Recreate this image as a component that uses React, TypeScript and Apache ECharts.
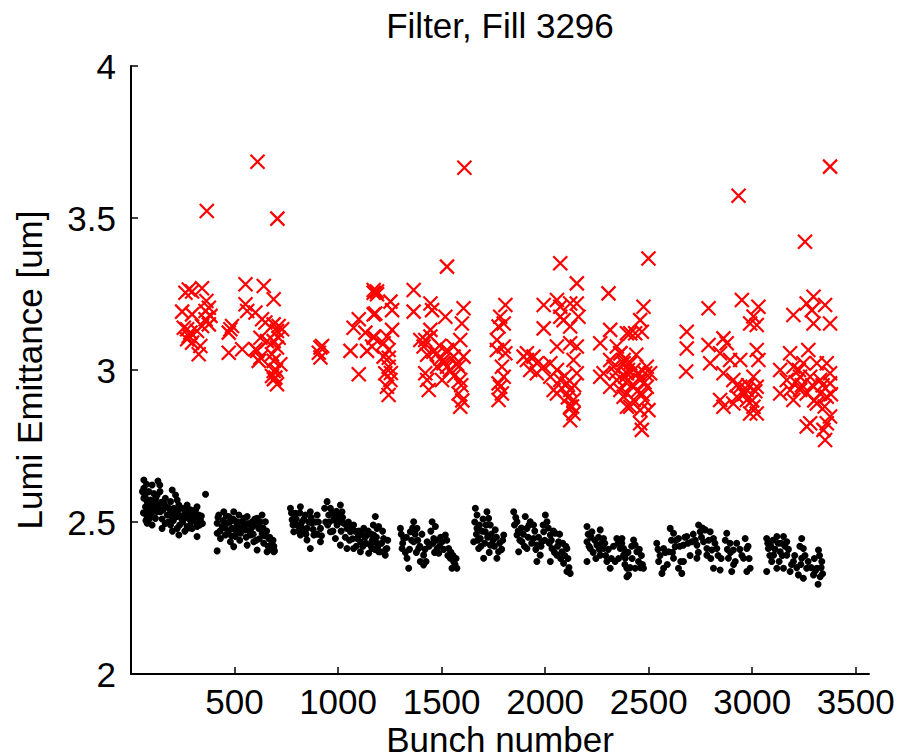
import React, { useEffect, useRef } from "react";
import * as echarts from "echarts";

const titleText = "Filter, Fill 3296";
const xName = "Bunch number";
const yName = "Lumi Emittance [um]";
const xTicks = [500, 1000, 1500, 2000, 2500, 3000, 3500];

// black dots (bunch, emittance)
const black1: [number, number][] = [
  [62, 2.638], [75, 2.624], [102, 2.622], [130, 2.635], [139, 2.622], [62, 2.611], [65, 2.594], [86, 2.6],
  [110, 2.594], [126, 2.589], [62, 2.578], [78, 2.567], [94, 2.572], [118, 2.567], [134, 2.556], [70, 2.55],
  [86, 2.54], [110, 2.545], [126, 2.534], [75, 2.523], [97, 2.518], [118, 2.512], [78, 2.496], [102, 2.49],
  [150, 2.479], [166, 2.578], [191, 2.567], [199, 2.605], [215, 2.589], [223, 2.572], [183, 2.545], [207, 2.545],
  [231, 2.556], [175, 2.523], [199, 2.512], [223, 2.518], [191, 2.49], [223, 2.479], [231, 2.457], [247, 2.545],
  [271, 2.556], [287, 2.54], [255, 2.523], [279, 2.512], [303, 2.534], [319, 2.55], [327, 2.523], [311, 2.501],
  [271, 2.485], [295, 2.479], [319, 2.485], [335, 2.507], [319, 2.452], [360, 2.591], [78, 2.512], [142, 2.534],
  [90, 2.555], [100, 2.53], [140, 2.6], [160, 2.56], [210, 2.53], [250, 2.5], [290, 2.5], [300, 2.505],
  [240, 2.52], [180, 2.5],
  [424, 2.523], [448, 2.534], [472, 2.518], [496, 2.534], [521, 2.523], [545, 2.512], [416, 2.496], [440, 2.485],
  [464, 2.496], [488, 2.479], [512, 2.49], [537, 2.501], [561, 2.518], [585, 2.501], [609, 2.512], [633, 2.523],
  [649, 2.501], [416, 2.463], [432, 2.446], [456, 2.457], [480, 2.435], [504, 2.452], [529, 2.463], [553, 2.474],
  [577, 2.457], [593, 2.435], [617, 2.479], [633, 2.463], [641, 2.43], [665, 2.446], [673, 2.413], [689, 2.402],
  [416, 2.405], [496, 2.419], [561, 2.424], [609, 2.408], [657, 2.402], [500, 2.505], [540, 2.48], [600, 2.49],
  [620, 2.445], [470, 2.47], [680, 2.43], [690, 2.42],
];
const black2: [number, number][] = [
  [770, 2.545], [794, 2.529], [818, 2.55], [842, 2.523], [866, 2.534], [778, 2.507], [802, 2.49], [826, 2.501],
  [850, 2.479], [874, 2.496], [899, 2.523], [915, 2.479], [786, 2.468], [818, 2.457], [850, 2.441], [883, 2.457],
  [915, 2.435], [866, 2.413], [947, 2.567], [963, 2.545], [955, 2.523], [979, 2.507], [1011, 2.556], [1019, 2.534],
  [995, 2.49], [1027, 2.496], [1043, 2.479], [963, 2.468], [987, 2.446], [1011, 2.424], [1060, 2.468], [1075, 2.49],
  [1092, 2.446], [1108, 2.435], [1124, 2.479], [1140, 2.457], [1156, 2.424], [1172, 2.435], [1188, 2.479], [1196, 2.402],
  [1075, 2.413], [1043, 2.413], [1108, 2.402], [1148, 2.397], [790, 2.515], [830, 2.475], [900, 2.46], [940, 2.5],
  [1000, 2.52], [1050, 2.5], [1100, 2.47], [1130, 2.45],
  [1180, 2.518], [1196, 2.485], [1172, 2.457], [1188, 2.43], [1204, 2.402], [1228, 2.391], [1220, 2.446], [1236, 2.413],
  [1164, 2.413],
  [1301, 2.479], [1317, 2.446], [1309, 2.413], [1333, 2.381], [1341, 2.348], [1365, 2.501], [1381, 2.479], [1365, 2.435],
  [1389, 2.413], [1397, 2.37], [1413, 2.391], [1430, 2.435], [1454, 2.501], [1470, 2.485], [1462, 2.446], [1478, 2.413],
  [1502, 2.435], [1518, 2.457], [1534, 2.413], [1542, 2.381], [1558, 2.37], [1574, 2.348], [1550, 2.348], [1349, 2.468],
  [1413, 2.359], [1486, 2.397],
];
const black3: [number, number][] = [
  [1663, 2.545], [1671, 2.523], [1719, 2.534], [1727, 2.512], [1671, 2.479], [1687, 2.446], [1711, 2.468], [1735, 2.49],
  [1759, 2.474], [1679, 2.413], [1703, 2.381], [1735, 2.424], [1775, 2.402], [1767, 2.381], [1800, 2.457], [1655, 2.435],
  [1848, 2.534], [1864, 2.501], [1904, 2.518], [1928, 2.501], [1912, 2.479], [1944, 2.49], [2001, 2.523], [2009, 2.501],
  [1864, 2.457], [1888, 2.435], [1912, 2.413], [1872, 2.402], [1944, 2.446], [1960, 2.424], [1984, 2.435], [1993, 2.468],
  [2025, 2.457], [2049, 2.463], [2065, 2.435], [2033, 2.413], [2057, 2.391], [2081, 2.402], [2105, 2.413], [1976, 2.391],
  [1960, 2.37], [2025, 2.37], [2089, 2.364], [2105, 2.337], [2121, 2.331],
  [2202, 2.485], [2226, 2.468], [2266, 2.474], [2282, 2.446], [2202, 2.435], [2218, 2.413], [2250, 2.424], [2266, 2.391],
  [2298, 2.37], [2202, 2.37], [2314, 2.348], [2346, 2.446], [2363, 2.413], [2379, 2.391], [2338, 2.37], [2395, 2.348],
  [2403, 2.326], [2282, 2.413],
];
const black4: [number, number][] = [
  [2371, 2.446], [2379, 2.413], [2387, 2.381], [2395, 2.32], [2427, 2.441], [2435, 2.424], [2443, 2.402], [2451, 2.37],
  [2435, 2.348], [2475, 2.348],
  [2604, 2.479], [2620, 2.463], [2644, 2.446], [2684, 2.452], [2741, 2.49], [2749, 2.468], [2773, 2.474], [2797, 2.468],
  [2813, 2.446], [2539, 2.43], [2572, 2.413], [2596, 2.402], [2628, 2.419], [2668, 2.424], [2708, 2.435], [2733, 2.424],
  [2765, 2.435], [2781, 2.413], [2805, 2.408], [2829, 2.413], [2548, 2.37], [2572, 2.348], [2620, 2.381], [2644, 2.348],
  [2668, 2.37], [2733, 2.381], [2781, 2.391], [2813, 2.348], [2845, 2.342], [2877, 2.463], [2893, 2.43], [2909, 2.408],
  [2885, 2.381], [2918, 2.37], [2901, 2.337], [2966, 2.446], [2974, 2.413], [2958, 2.381], [2990, 2.348], [2974, 2.337],
  [2564, 2.331], [2660, 2.331],
  [3070, 2.446], [3119, 2.452], [3151, 2.452], [3167, 2.435], [3078, 2.413], [3103, 2.391], [3135, 2.402], [3167, 2.391],
  [3199, 2.37], [3094, 2.37], [3119, 2.348], [3070, 2.337], [3151, 2.348], [3183, 2.337], [3239, 2.446], [3247, 2.413],
  [3239, 2.381], [3263, 2.348], [3223, 2.326], [3320, 2.408], [3336, 2.37], [3312, 2.348], [3296, 2.326], [3247, 2.315],
  [3328, 2.32], [3318, 2.295],
];
const black5: [number, number][] = [
  [55, 2.6], [68, 2.585], [85, 2.57], [95, 2.545], [108, 2.56], [120, 2.58], [128, 2.55], [145, 2.565],
  [155, 2.54], [170, 2.55], [185, 2.525], [195, 2.53], [205, 2.505], [215, 2.52], [225, 2.535], [235, 2.49],
  [245, 2.51], [260, 2.54], [265, 2.515], [280, 2.53], [290, 2.525], [305, 2.515], [312, 2.54], [325, 2.505],
  [332, 2.49], [340, 2.52], [345, 2.495], [60, 2.53], [72, 2.505], [88, 2.51], [150, 2.51], [165, 2.495],
  [200, 2.47], [260, 2.47], [280, 2.48],
  [420, 2.515], [430, 2.47], [445, 2.505], [455, 2.48], [460, 2.52], [478, 2.5], [485, 2.455], [492, 2.51],
  [508, 2.47], [515, 2.5], [525, 2.44], [532, 2.48], [548, 2.49], [556, 2.45], [565, 2.495], [572, 2.47],
  [582, 2.48], [590, 2.46], [598, 2.51], [605, 2.44], [612, 2.49], [625, 2.5], [638, 2.48], [645, 2.455],
  [655, 2.47], [662, 2.42], [670, 2.45], [680, 2.41], [686, 2.44], [693, 2.405],
  [775, 2.53], [782, 2.49], [798, 2.51], [808, 2.47], [815, 2.53], [822, 2.485], [835, 2.51], [845, 2.46],
  [858, 2.5], [870, 2.515], [880, 2.475], [890, 2.5], [905, 2.5], [920, 2.455], [935, 2.545], [950, 2.49],
  [958, 2.5], [970, 2.53], [975, 2.47], [985, 2.515], [992, 2.535], [1005, 2.5], [1015, 2.47], [1022, 2.515],
  [1035, 2.45], [1040, 2.49], [1055, 2.44], [1065, 2.485], [1070, 2.445], [1082, 2.47], [1088, 2.42], [1098, 2.455],
  [1115, 2.46], [1120, 2.42], [1135, 2.43], [1145, 2.47], [1160, 2.46], [1165, 2.44], [1178, 2.41], [1185, 2.45],
  [1192, 2.42], [1210, 2.43], [1215, 2.47], [1230, 2.41], [1240, 2.44], [1170, 2.49],
  [1305, 2.46], [1312, 2.43], [1325, 2.4], [1330, 2.45], [1345, 2.41], [1355, 2.44], [1360, 2.48], [1372, 2.46],
  [1378, 2.4], [1385, 2.44], [1395, 2.42], [1405, 2.46], [1420, 2.41], [1425, 2.37], [1440, 2.42], [1448, 2.47],
  [1458, 2.43], [1466, 2.4], [1475, 2.44], [1490, 2.42], [1495, 2.45], [1510, 2.41], [1525, 2.44], [1530, 2.39],
  [1545, 2.4], [1555, 2.39], [1565, 2.36], [1570, 2.38],
  [1660, 2.5], [1668, 2.46], [1675, 2.44], [1683, 2.49], [1690, 2.42], [1695, 2.47], [1700, 2.51], [1708, 2.43],
  [1715, 2.49], [1722, 2.45], [1730, 2.4], [1740, 2.46], [1748, 2.44], [1755, 2.42], [1765, 2.45], [1780, 2.43],
  [1790, 2.41], [1795, 2.44],
  [1852, 2.49], [1858, 2.515], [1870, 2.47], [1878, 2.44], [1885, 2.48], [1895, 2.46], [1900, 2.42], [1918, 2.45],
  [1922, 2.49], [1935, 2.43], [1950, 2.47], [1955, 2.41], [1968, 2.45], [1980, 2.42], [1990, 2.49], [1998, 2.44],
  [2015, 2.48], [2020, 2.43], [2030, 2.44], [2040, 2.47], [2045, 2.4], [2060, 2.42], [2070, 2.46], [2075, 2.38],
  [2085, 2.43], [2095, 2.39], [2100, 2.42], [2110, 2.38], [2115, 2.35],
  [2208, 2.46], [2212, 2.42], [2222, 2.45], [2232, 2.4], [2240, 2.44], [2245, 2.38], [2258, 2.45], [2262, 2.41],
  [2272, 2.43], [2288, 2.43], [2292, 2.39], [2305, 2.41], [2320, 2.38], [2330, 2.42], [2352, 2.43], [2355, 2.38],
  [2370, 2.43], [2385, 2.36], [2400, 2.4], [2410, 2.35], [2418, 2.42], [2420, 2.38], [2455, 2.41], [2460, 2.35],
  [2465, 2.39], [2470, 2.36],
  [2545, 2.41], [2555, 2.39], [2580, 2.4], [2590, 2.36], [2610, 2.44], [2615, 2.4], [2632, 2.44], [2650, 2.42],
  [2655, 2.37], [2675, 2.45], [2690, 2.43], [2700, 2.39], [2715, 2.46], [2725, 2.44], [2740, 2.4], [2755, 2.45],
  [2760, 2.48], [2790, 2.44], [2800, 2.38], [2820, 2.43], [2835, 2.39], [2850, 2.38], [2870, 2.44], [2880, 2.41],
  [2895, 2.4], [2910, 2.36], [2925, 2.43], [2940, 2.41], [2950, 2.39], [2980, 2.42], [2985, 2.38],
  [3075, 2.43], [3085, 2.39], [3090, 2.42], [3100, 2.44], [3110, 2.41], [3125, 2.43], [3130, 2.37], [3140, 2.43],
  [3145, 2.39], [3158, 2.42], [3175, 2.41], [3190, 2.36], [3205, 2.39], [3215, 2.35], [3230, 2.42], [3235, 2.36],
  [3255, 2.39], [3270, 2.37], [3285, 2.35], [3300, 2.38], [3305, 2.34], [3325, 2.39], [3333, 2.35], [3340, 2.33],
];

// red crosses (bunch, emittance)
const red1: [number, number][] = [
  [279, 3.265], [295, 3.258], [343, 3.269], [263, 3.254], [364, 3.227], [247, 3.192], [295, 3.183], [360, 3.194],
  [376, 3.205], [384, 3.178], [360, 3.167], [271, 3.134], [287, 3.123], [319, 3.128], [343, 3.145], [271, 3.101],
  [295, 3.09], [335, 3.079], [327, 3.052], [376, 3.15], [255, 3.139], [279, 3.112], [366, 3.523],
  [480, 3.134], [472, 3.123], [472, 3.057], [488, 3.145],
  [553, 3.282], [641, 3.276], [689, 3.233], [553, 3.216], [561, 3.194], [601, 3.189], [633, 3.167], [649, 3.156],
  [537, 3.068], [601, 3.068], [625, 3.041], [617, 3.03], [689, 3.15], [713, 3.145], [730, 3.134], [705, 3.128],
  [689, 3.095], [705, 3.074], [681, 3.052], [689, 3.03], [689, 2.997], [697, 2.975], [705, 2.953], [681, 2.98],
  [721, 3.019], [713, 3.106], [657, 3.095], [625, 3.106], [609, 3.063], [611, 3.685], [707, 3.498],
  [915, 3.074], [907, 3.057], [915, 3.041], [923, 3.079],
  [1172, 3.254], [1100, 3.167], [1075, 3.139], [1132, 3.123], [1172, 3.106], [1060, 3.063], [1140, 3.063], [1100, 2.986],
  [1172, 3.183], [1188, 3.249],
];
const red2: [number, number][] = [
  [1172, 3.263], [1188, 3.258], [1180, 3.186], [1172, 3.11], [1164, 3.077], [1253, 3.225], [1261, 3.197], [1236, 3.11],
  [1220, 3.088], [1244, 3.066], [1220, 3.044], [1244, 3.011], [1228, 2.989], [1253, 2.967], [1236, 2.945], [1244, 2.918],
  [1261, 3.132],
  [1365, 3.263], [1365, 3.192], [1446, 3.219], [1454, 3.197], [1526, 3.34], [1518, 3.175], [1421, 3.099], [1446, 3.11],
  [1397, 3.099], [1413, 3.077], [1478, 3.055], [1494, 3.038], [1510, 3.022], [1526, 3.066], [1558, 3.077], [1590, 3.099],
  [1606, 3.203], [1598, 3.153], [1421, 2.989], [1430, 2.967], [1438, 2.934], [1502, 2.967], [1526, 3.011], [1582, 3.011],
  [1590, 2.967], [1582, 2.923], [1590, 2.879], [1606, 3.044], [1446, 3.132], [1478, 3.011], [1558, 3.044], [1610, 3.665],
  [1808, 3.214], [1783, 3.175], [1800, 3.153], [1775, 3.143], [1767, 3.099], [1800, 3.077], [1808, 3.055], [1767, 3.066],
  [1791, 3.011], [1800, 2.978], [1775, 2.956], [1783, 2.945], [1791, 2.923], [1775, 2.901],
];
const red3: [number, number][] = [
  [2073, 3.351], [2153, 3.285], [1993, 3.214], [2057, 3.23], [2073, 3.208], [2121, 3.219], [2153, 3.219], [2161, 3.175],
  [2073, 3.175], [2089, 3.164], [2121, 3.143], [1993, 3.137], [2057, 3.077], [1912, 3.055], [1944, 3.044], [1960, 3.022],
  [1993, 3.011], [2025, 3.022], [2057, 3.0], [2121, 3.088], [2153, 3.077], [2137, 3.033], [2025, 2.978], [2073, 2.967],
  [2105, 2.956], [2121, 2.934], [2137, 2.901], [2121, 2.879], [2137, 2.857], [2121, 2.835], [2041, 2.934], [2057, 2.923],
  [2153, 2.989], [1912, 3.033], [1896, 3.044], [1928, 3.0], [1960, 2.989],
  [2306, 3.252], [2314, 3.132], [2266, 3.088], [2346, 3.077], [2363, 3.055], [2314, 3.033], [2282, 2.989], [2330, 3.011],
  [2379, 3.022], [2395, 2.989], [2346, 2.967], [2314, 2.945], [2379, 2.912], [2395, 2.879], [2363, 2.934], [2266, 2.978],
  [2411, 3.121],
  [2499, 3.367], [2475, 3.208], [2459, 3.164], [2467, 3.126], [2435, 3.121], [2395, 3.121], [2363, 3.055], [2379, 3.033],
  [2411, 3.022], [2427, 3.0], [2387, 2.978], [2491, 3.011], [2507, 2.989], [2459, 2.967], [2491, 2.945], [2395, 2.923],
  [2427, 2.901], [2483, 2.901], [2411, 2.879], [2459, 2.868], [2499, 2.868], [2459, 2.825], [2467, 2.803], [2483, 2.989],
];
const red4: [number, number][] = [
  [2684, 3.126], [2684, 3.071], [2681, 2.995],
  [2934, 3.573], [2789, 3.203], [2950, 3.23], [3030, 3.208], [3006, 3.176], [2990, 3.153], [3022, 3.148], [2789, 3.082],
  [2861, 3.104], [2877, 3.088], [2797, 3.022], [2845, 3.055], [2893, 3.033], [2942, 3.033], [3022, 3.066], [3030, 3.033],
  [2861, 2.989], [2909, 2.967], [2942, 2.945], [2974, 2.934], [3006, 2.978], [3022, 2.945], [2926, 2.912], [2845, 2.901],
  [2861, 2.879], [2909, 2.89], [2974, 2.901], [3006, 2.879], [3022, 2.857], [2990, 2.857],
  [3255, 3.422], [3296, 3.241], [3263, 3.219], [3352, 3.214], [3288, 3.197], [3199, 3.181], [3296, 3.153], [3376, 3.153],
  [3183, 3.055], [3271, 3.066], [3135, 3.0], [3199, 3.011], [3247, 3.022], [3312, 3.022], [3360, 3.022], [3376, 2.989],
  [3167, 2.967], [3231, 2.978], [3280, 2.978], [3328, 2.967], [3376, 2.956], [3135, 2.923], [3183, 2.934], [3231, 2.934],
  [3263, 2.923], [3328, 2.923], [3360, 2.912], [3199, 2.901], [3312, 2.89], [3280, 2.825], [3360, 2.825], [3344, 2.803],
  [3352, 2.77], [3263, 2.814], [3376, 2.847], [3376, 3.669],
];
const red5: [number, number][] = [
  [1540, 3.0], [1560, 2.98], [1575, 3.02], [1595, 2.95], [1600, 2.9], [1460, 3.06], [1490, 3.08], [1505, 3.03],
  [1430, 3.05], [2390, 2.96], [2420, 2.95], [2445, 2.93], [2470, 2.92], [2480, 2.96], [2400, 3.0], [2340, 2.99],
  [2440, 3.05], [2450, 2.99], [3210, 2.96], [3240, 2.95], [3290, 2.95], [3300, 2.9], [3340, 2.95], [3350, 2.88],
  [3380, 2.92], [3225, 3.0], [2960, 2.92], [2980, 2.95], [3000, 2.9], [2925, 2.95], [3015, 2.93], [2080, 2.94],
  [2095, 2.98], [2110, 2.91], [2130, 2.88], [2140, 2.95], [700, 3.0], [690, 2.97], [1245, 3.04], [1255, 2.99],
];

const FONT = "'Liberation Sans', Arial, Helvetica, sans-serif";

export default function App() {
  const ref = useRef<HTMLDivElement>(null);
  useEffect(() => {
    if (!ref.current) return;
    const chart = echarts.init(ref.current, undefined, { renderer: "svg" });
    const blackData = [...black1, ...black2, ...black3, ...black4, ...black5];
    const redData = [...red1, ...red2, ...red3, ...red4, ...red5];
    chart.setOption({
      animation: false,
      backgroundColor: "#ffffff",
      textStyle: { fontFamily: FONT },
      graphic: [
        {
          type: "text",
          x: 500,
          y: 25,
          style: {
            text: titleText,
            font: `35px ${FONT}`,
            fill: "#000",
            textAlign: "center",
            textVerticalAlign: "middle",
          },
        },
      ],
      grid: { left: 131, right: 43, top: 66, bottom: 82, containLabel: false, outerBoundsMode: "none" },
      xAxis: {
        type: "value",
        min: 0,
        max: 3564,
        interval: 500,
        name: xName,
        nameLocation: "middle",
        nameGap: 50,
        nameMoveOverlap: false,
        nameTextStyle: { fontSize: 35, lineHeight: 30, color: "#000", fontFamily: FONT },
        axisLine: { show: true, onZero: false, lineStyle: { color: "#000", width: 2 } },
        axisTick: { show: true, inside: true, length: 7, lineStyle: { color: "#000", width: 1.5 }, customValues: xTicks },
        axisLabel: {
          color: "#000",
          fontSize: 35,
          fontFamily: FONT,
          margin: 10,
          customValues: xTicks,
          formatter: (v: number) => String(v),
        },
        splitLine: { show: false },
      },
      yAxis: {
        type: "value",
        min: 2,
        max: 4,
        interval: 0.5,
        name: yName,
        nameLocation: "middle",
        nameGap: 84,
        nameMoveOverlap: false,
        nameTextStyle: { fontSize: 35, color: "#000", fontFamily: FONT },
        axisLine: { show: true, onZero: false, lineStyle: { color: "#000", width: 2 } },
        axisTick: { show: true, inside: true, length: 7, lineStyle: { color: "#000", width: 1.5 } },
        axisLabel: { color: "#000", fontSize: 35, fontFamily: FONT, margin: 15, formatter: (v: number) => String(v) },
        splitLine: { show: false },
      },
      series: [
        {
          type: "scatter",
          data: blackData,
          symbol: "circle",
          symbolSize: 7,
          itemStyle: { color: "#000", opacity: 1 },
        },
        {
          type: "scatter",
          data: redData,
          symbol: "path://M0,0L10,10M0,10L10,0",
          symbolSize: 14,
          itemStyle: { color: "rgba(0,0,0,0)", borderColor: "#ff0000", borderWidth: 2.2, opacity: 1 },
        },
      ],
    });
    return () => chart.dispose();
  }, []);
  return <div ref={ref} style={{ position: "fixed", left: 0, top: 0, width: 912, height: 756 }} />;
}
